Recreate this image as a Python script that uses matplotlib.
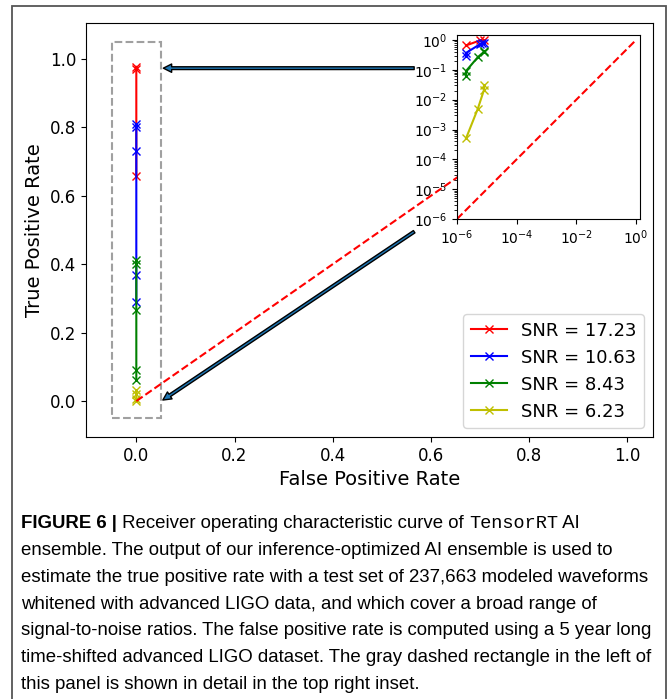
import matplotlib
matplotlib.use("Agg")
import matplotlib.pyplot as plt
from matplotlib.patches import Rectangle
from matplotlib.text import Annotation
from matplotlib import ticker
from matplotlib import font_manager

# ROC points (false positive rate, true positive rate) for each SNR
labels = ["SNR = 17.23", "SNR = 10.63", "SNR = 8.43", "SNR = 6.23"]
colors = ["r", "b", "g", "y"]

fpr_17 = [2e-6, 6e-6, 8e-6]
tpr_17 = [0.658, 0.972, 0.977]

fpr_10 = [2e-6, 2e-6, 6e-6, 7e-6, 8e-6]
tpr_10 = [0.291, 0.369, 0.731, 0.800, 0.810]

fpr_8 = [2e-6, 2e-6, 5e-6, 8e-6, 8e-6]
tpr_8 = [0.062, 0.091, 0.267, 0.400, 0.413]

fpr_6 = [2e-6, 5e-6, 8e-6, 8e-6]
tpr_6 = [5e-4, 5e-3, 0.021, 0.031]

fprs = [fpr_17, fpr_10, fpr_8, fpr_6]
tprs = [tpr_17, tpr_10, tpr_8, tpr_6]

main_ticks = [0.0, 0.2, 0.4, 0.6, 0.8, 1.0]
inset_xticks = [1e-6, 1e-4, 1e-2, 1e0]
inset_yticks = [1e-6, 1e-5, 1e-4, 1e-3, 1e-2, 1e-1, 1e0]

caption_lines = [
    "ensemble. The output of our inference-optimized AI ensemble is used to",
    "estimate the true positive rate with a test set of 237,663 modeled waveforms",
    "whitened with advanced LIGO data, and which cover a broad range of",
    "signal-to-noise ratios. The false positive rate is computed using a 5 year long",
    "time-shifted advanced LIGO dataset. The gray dashed rectangle in the left of",
    "this panel is shown in detail in the top right inset.",
]


def pick_font(names):
    for n in names:
        try:
            font_manager.findfont(font_manager.FontProperties(family=n), fallback_to_default=False)
            return n
        except Exception:
            pass
    return "DejaVu Sans"


cap_font = pick_font(["Liberation Sans Narrow", "Liberation Sans", "DejaVu Sans"])
mono_font = pick_font(["Liberation Mono", "DejaVu Sans Mono"])
cap_size = 14.5 if cap_font == "Liberation Sans Narrow" else 13.4

W, H = 670, 699
fig = plt.figure(figsize=(W / 100, H / 100), dpi=100)

# outer frame of the figure panel
fig.patches.append(Rectangle((12 / W, -0.01), (666 - 12) / W, (699 - 6) / H + 0.01,
                             transform=fig.transFigure, fill=False,
                             ec="#555555", lw=1.3))

ax = fig.add_axes([86 / W, 1 - 437 / H, (653 - 86) / W, (437 - 23) / H])
for f, t, c, lab in zip(fprs, tprs, colors, labels):
    ax.plot(f, t, color=c, marker="x", label=lab)
ax.plot([0, 1], [0, 1], "r--")
ax.add_patch(Rectangle((-0.05, -0.05), 0.1, 1.1, fill=False, ec="#a0a0a0", ls="--", lw=1.5))
ax.set_xlim(-0.1025, 1.0525)
ax.set_ylim(-0.105, 1.105)
ax.set_xticks(main_ticks)
ax.set_yticks(main_ticks)
ax.tick_params(labelsize=12)
ax.set_xlabel("False Positive Rate", fontsize=14)
ax.set_ylabel("True Positive Rate", fontsize=14)
ax.legend(loc="lower right", fontsize=13)

arrow = dict(arrowstyle="simple,head_length=0.6,head_width=0.6,tail_width=0.2",
             fc="C0", ec="k", lw=1, shrinkA=0, shrinkB=0)
ax.annotate("", xy=(0.055, 0.973), xytext=(0.566, 0.973), arrowprops=arrow)
ax.annotate("", xy=(0.054, 0.003), xytext=(0.566, 0.495), arrowprops=arrow)

# inset with log scales
ins = fig.add_axes([457 / W, 1 - 219 / H, (640 - 457) / W, (219 - 35) / H])
for f, t, c in zip(fprs, tprs, colors):
    ins.plot(f, t, color=c, marker="x")
ins.plot([1e-6, 1], [1e-6, 1], "r--")
ins.set_xscale("log")
ins.set_yscale("log")
ins.set_xlim(1e-6, 10 ** 0.134)
ins.set_ylim(1e-6, 10 ** 0.168)
ins.set_xticks(inset_xticks)
ins.set_yticks(inset_yticks)
ins.xaxis.set_minor_locator(ticker.NullLocator())
ins.yaxis.set_minor_locator(ticker.LogLocator(subs=range(2, 10), numticks=20))
ins.yaxis.set_minor_formatter(ticker.NullFormatter())
ins.tick_params(labelsize=10)

# caption, first line is built from pieces with different fonts
x0 = 21 / W
line_y = [524 + 26.7 * i for i in range(7)]
prev = fig.text(x0, 1 - line_y[0] / H, "FIGURE 6 |", family=cap_font, weight="bold",
                fontsize=cap_size, va="center")
pieces = [(" Receiver operating characteristic curve of ", cap_font),
          ("TensorRT", mono_font), (" AI", cap_font)]
for txt, fam in pieces:
    a = Annotation(txt, xy=(1, 0), xycoords=prev, va="bottom", ha="left",
                   family=fam, fontsize=cap_size, annotation_clip=False)
    fig.add_artist(a)
    prev = a
for line, py in zip(caption_lines, line_y[1:]):
    fig.text(x0, 1 - py / H, line, family=cap_font, fontsize=cap_size, va="center")

fig.savefig("out.png", dpi=100)
